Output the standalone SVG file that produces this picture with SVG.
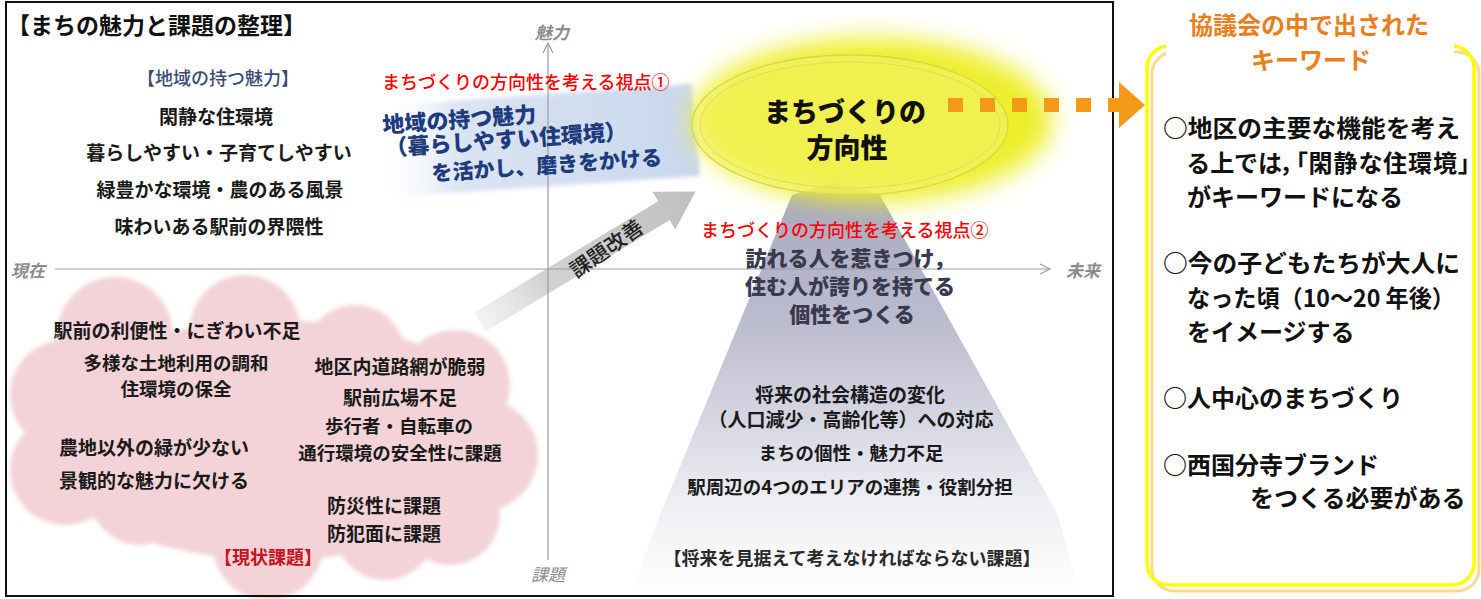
<svg xmlns="http://www.w3.org/2000/svg" width="1481" height="599" viewBox="0 0 1481 599">
<defs>
<style>
text { font-family: "Noto Sans CJK JP", "Noto Sans", sans-serif; }
.body { font-size: 19px; font-weight: 700; fill: #1a1a1a; text-anchor: middle; }
.axlbl { font-size: 17px; font-style: italic; font-weight: 700; fill: #8c8c8c; text-anchor: middle; }
.red { font-size: 18px; font-weight: 500; fill: #ff0000; }
.blue { font-size: 22px; font-weight: 900; fill: #1d3b7d; }
.dark { font-size: 21px; font-weight: 900; fill: #3a3a4e; text-anchor: middle; }
.kw { font-size: 24px; font-weight: 700; fill: #111; }
.palt { font-feature-settings: "palt" 1; letter-spacing: 1px; }
.kwt { font-size: 24px; font-weight: 700; fill: #ea7d1c; text-anchor: middle; }
.axis { stroke: #9c9c9c; stroke-width: 1.2; fill: none; }
.dot { fill: #f59a18; }
.cloud { fill: #f3d3d7; }
</style>
<linearGradient id="blueband" x1="0" y1="0" x2="1" y2="0">
<stop offset="0" stop-color="#ffffff" stop-opacity="0"/>
<stop offset="0.25" stop-color="#dbe4f2"/>
<stop offset="1" stop-color="#c9d7ee"/>
</linearGradient>
<linearGradient id="trap" x1="0" y1="0" x2="0" y2="1">
<stop offset="0" stop-color="#a6a6bf"/>
<stop offset="0.35" stop-color="#bdbdd0"/>
<stop offset="0.6" stop-color="#d9d9e5"/>
<stop offset="0.8" stop-color="#f1f1f5"/>
<stop offset="1" stop-color="#ffffff"/>
</linearGradient>
<linearGradient id="grayarrow" x1="0" y1="0" x2="1" y2="0">
<stop offset="0" stop-color="#e6e6e6" stop-opacity="0.5"/>
<stop offset="0.3" stop-color="#d2d2d2"/>
<stop offset="1" stop-color="#c0c0c0"/>
</linearGradient>
<filter id="glow" x="-30%" y="-40%" width="160%" height="180%">
<feGaussianBlur stdDeviation="12"/>
</filter>
<filter id="soft" x="-10%" y="-10%" width="120%" height="120%">
<feGaussianBlur stdDeviation="2"/>
</filter>
</defs>

<rect x="0" y="0" width="1481" height="599" fill="#ffffff"/>

<!-- current issues cloud -->
<g id="current-issues">
<g class="cloud" filter="url(#soft)">
<ellipse cx="275" cy="440" rx="240" ry="120"/>
<circle cx="115" cy="335" r="58"/>
<circle cx="245" cy="330" r="55"/>
<circle cx="355" cy="355" r="50"/>
<circle cx="455" cy="385" r="55"/>
<circle cx="482" cy="455" r="56"/>
<circle cx="450" cy="515" r="50"/>
<circle cx="385" cy="530" r="50"/>
<circle cx="268" cy="545" r="55"/>
<circle cx="140" cy="495" r="50"/>
<circle cx="65" cy="470" r="55"/>
<circle cx="65" cy="395" r="55"/>
</g>
<text class="body" x="177" y="338">駅前の利便性・にぎわい不足</text>
<text class="body" x="176" y="370" style="font-size:18.5px">多様な土地利用の調和</text>
<text class="body" x="176" y="396" style="font-size:18.5px">住環境の保全</text>
<text class="body" x="400" y="374">地区内道路網が脆弱</text>
<text class="body" x="400" y="405">駅前広場不足</text>
<text class="body" x="399" y="433" style="font-size:18.5px">歩行者・自転車の</text>
<text class="body" x="400" y="460" style="font-size:18.5px">通行環境の安全性に課題</text>
<text class="body" x="154" y="455">農地以外の緑が少ない</text>
<text class="body" x="154" y="488">景観的な魅力に欠ける</text>
<text class="body" x="384" y="513">防災性に課題</text>
<text class="body" x="384" y="541">防犯面に課題</text>
<text class="body" x="268" y="564" style="fill:#c8141e;font-size:18px">【現状課題】</text>
</g>

<!-- future issues trapezoid -->
<g id="future-issues">
<polygon points="792,195 835,182 880,195 1058,515 1080,596 630,596 660,515" fill="url(#trap)"/>
<text class="body" x="850" y="402">将来の社会構造の変化</text>
<text class="body" x="851" y="427">（人口減少・高齢化等）への対応</text>
<text class="body" x="851" y="460" style="font-size:18.5px">まちの個性・魅力不足</text>
<text class="body" x="850" y="494" style="font-size:18.5px">駅周辺の4つのエリアの連携・役割分担</text>
<text class="body" x="852" y="565" style="font-size:18px;fill:#2a2a2a">【将来を見据えて考えなければならない課題】</text>
</g>

<!-- viewpoint 1 band -->
<g id="viewpoint-1">
<polygon points="376,106 692,84 700,176 376,198" fill="url(#blueband)" filter="url(#soft)"/>
</g>

<!-- connectors -->
<g id="connectors">
<g transform="translate(480,322) rotate(-31.2)">
<polygon points="0,-11 215,-11 215,-22 252,0 215,22 215,11 0,11" fill="url(#grayarrow)"/>
</g>
</g>

<!-- direction ellipse -->
<g id="direction">
<ellipse cx="872" cy="120" rx="180" ry="82" fill="#eeee2c" filter="url(#glow)"/>
<ellipse cx="850" cy="125" rx="158" ry="70" fill="#f3f36c" fill-opacity="0.55" stroke="#d6d64a" stroke-width="1.3"/>
<ellipse cx="850" cy="125" rx="150" ry="63" fill="none" stroke="#dede5c" stroke-width="1"/>
<text x="845" y="122" style="font-size:27px;font-weight:900;fill:#111;text-anchor:middle">まちづくりの</text>
<text x="847" y="158" style="font-size:27px;font-weight:900;fill:#111;text-anchor:middle">方向性</text>
</g>

<!-- axes -->
<g id="axes">
<line class="axis" x1="548" y1="43" x2="548" y2="560"/>
<polyline class="axis" points="543,53 548,43 553,53"/>
<line class="axis" x1="55" y1="269" x2="1050" y2="269"/>
<polyline class="axis" points="1040,264 1050,269 1040,274"/>
<text class="axlbl" x="552" y="39">魅力</text>
<text class="axlbl" x="28" y="277">現在</text>
<text class="axlbl" x="1083" y="277">未来</text>
<text class="axlbl" x="548" y="581" style="font-weight:400">課題</text>
</g>

<!-- arrow label -->
<g id="issue-improvement-label">
<text x="607" y="256" transform="rotate(-35 607 249)" style="font-size:21px;font-weight:500;fill:#222;text-anchor:middle">課題改善</text>
</g>

<!-- viewpoint 1 texts -->
<g id="viewpoint-1-text">
<text class="red" x="382" y="89">まちづくりの方向性を考える視点①</text>
<text class="blue" x="383" y="133" transform="rotate(-4 383 133)">地域の持つ魅力</text>
<text class="blue" x="386" y="156" transform="rotate(-4 386 156)">（暮らしやすい住環境）</text>
<text class="blue" x="432" y="181" transform="rotate(-4 432 181)" style="font-size:21px">を活かし、磨きをかける</text>
</g>

<!-- viewpoint 2 texts -->
<g id="viewpoint-2">
<text class="red" x="701" y="237">まちづくりの方向性を考える視点②</text>
<text class="dark" x="850" y="266">訪れる人を惹きつけ，</text>
<text class="dark" x="850" y="294">住む人が誇りを持てる</text>
<text class="dark" x="852" y="322">個性をつくる</text>
</g>

<!-- attractiveness list -->
<g id="attractiveness">
<text class="body" x="218" y="85" style="font-size:18px;fill:#3a4a75;font-weight:500">【地域の持つ魅力】</text>
<text class="body" x="216" y="124">閑静な住環境</text>
<text class="body" x="219" y="160">暮らしやすい・子育てしやすい</text>
<text class="body" x="220" y="197">緑豊かな環境・農のある風景</text>
<text class="body" x="219" y="234">味わいある駅前の界隈性</text>
</g>

<!-- frame and title -->
<g id="frame">
<rect x="6" y="2" width="1107" height="594" fill="none" stroke="#111" stroke-width="2"/>
<text x="7" y="34" style="font-size:23px;font-weight:700;fill:#111">【まちの魅力と課題の整理】</text>
</g>

<!-- orange dotted arrow -->
<g id="keyword-arrow">
<rect class="dot" x="948" y="98" width="15" height="14"/>
<rect class="dot" x="980" y="98" width="15" height="14"/>
<rect class="dot" x="1012" y="98" width="15" height="14"/>
<rect class="dot" x="1044" y="98" width="15" height="14"/>
<rect class="dot" x="1076" y="98" width="15" height="14"/>
<rect class="dot" x="1108" y="98" width="13" height="14"/>
<polygon class="dot" points="1119,82 1145,105 1119,128"/>
</g>

<!-- keyword box -->
<g id="keywords">
<rect x="1147" y="46" width="327" height="539" rx="22" fill="#ffffff"/>
<rect x="1152" y="52" width="327" height="539" rx="22" fill="none" stroke="#fcd98c" stroke-width="3"/>
<rect x="1147" y="46" width="327" height="539" rx="22" fill="none" stroke="#ffff00" stroke-width="3.5"/>
<rect x="1166" y="36" width="288" height="24" fill="#ffffff"/>
<text class="kwt" x="1309" y="34">協議会の中で出された</text>
<text class="kwt" x="1311" y="69">キーワード</text>
<text class="kw" x="1163" y="137" textLength="297" lengthAdjust="spacingAndGlyphs">○地区の主要な機能を考え</text>
<text class="kw palt" x="1187" y="172">る上では，「閑静な住環境」</text>
<text class="kw" x="1187" y="206">がキーワードになる</text>
<text class="kw" x="1163" y="272" textLength="297" lengthAdjust="spacingAndGlyphs">○今の子どもたちが大人に</text>
<text class="kw" x="1187" y="307" textLength="268" lengthAdjust="spacingAndGlyphs">なった頃（10～20 年後）</text>
<text class="kw" x="1187" y="341">をイメージする</text>
<text class="kw" x="1163" y="407">○人中心のまちづくり</text>
<text class="kw" x="1163" y="474">○西国分寺ブランド</text>
<text class="kw" x="1250" y="507">をつくる必要がある</text>
</g>
</svg>
